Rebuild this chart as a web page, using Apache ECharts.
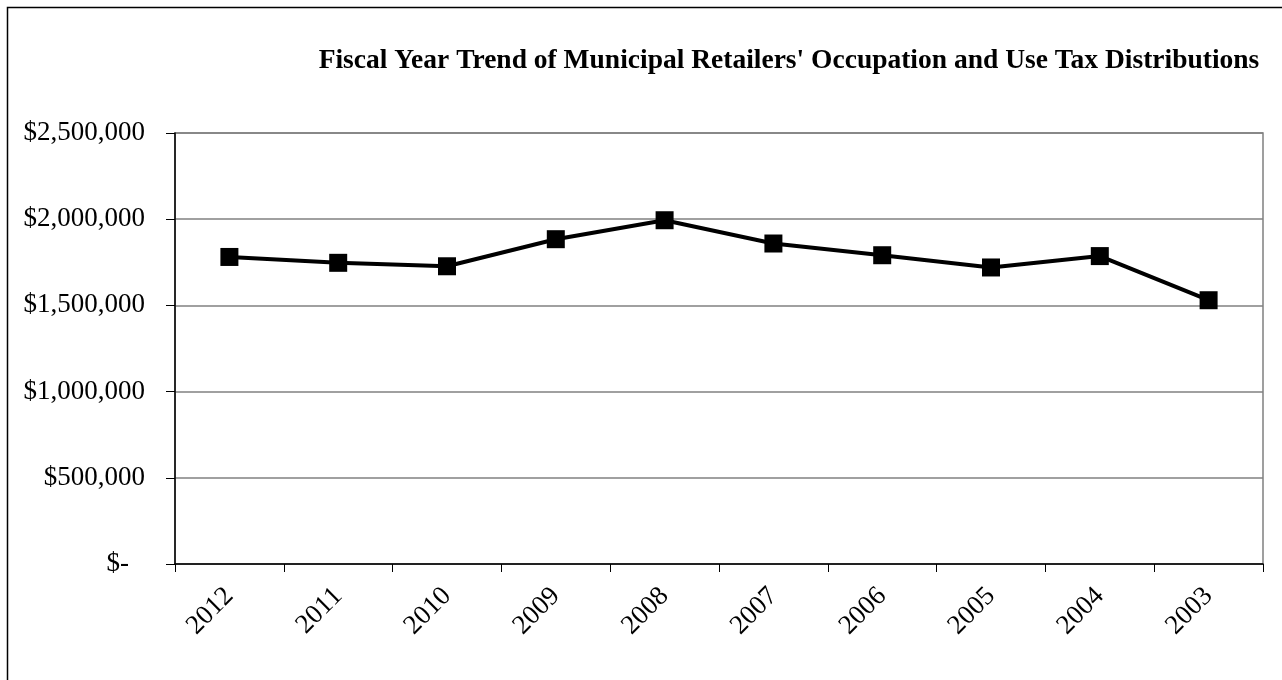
<!DOCTYPE html>
<html>
<head>
<meta charset="utf-8">
<title>Fiscal Year Trend of Municipal Retailers' Occupation and Use Tax Distributions</title>
<script src="https://cdn.jsdelivr.net/npm/echarts@6/dist/echarts.min.js"></script>
<style>
  html, body { margin: 0; padding: 0; background: #ffffff; }
  #chart { width: 1282px; height: 680px; }
</style>
</head>
<body>
<div id="chart"></div>
<script>
// Fiscal years, most recent first
const years = ['2012', '2011', '2010', '2009', '2008', '2007', '2006', '2005', '2004', '2003'];

// Municipal ROT/UT distributions per fiscal year (dollars)
const distributions = [1781000, 1747000, 1727000, 1884000, 1994000, 1859000, 1791000, 1720000, 1786000, 1530000];

// Value axis range
const yMin = 0;
const yMax = 2500000;
const yStep = 500000;

const titleText = "Fiscal Year Trend of Municipal Retailers' Occupation and Use Tax Distributions";
const serif = '"Times New Roman", "Liberation Serif", "DejaVu Serif", serif';

function money(v) {
  if (v === 0) return '{z|$-}';
  return '$' + v.toString().replace(/\B(?=(\d{3})+(?!\d))/g, ',');
}

const chart = echarts.init(document.getElementById('chart'), null, { renderer: 'canvas' });

chart.setOption({
  backgroundColor: '#ffffff',
  animation: false,
  title: {
    text: titleText,
    left: 784,
    top: 42,
    textAlign: 'center',
    textStyle: {
      fontFamily: serif,
      fontWeight: 'bold',
      fontSize: 27.5,
      color: '#000000'
    }
  },
  graphic: [{
    type: 'rect',
    left: 5,
    top: 5,
    shape: { width: 1300, height: 700 },
    style: { fill: 'none', stroke: '#000000', lineWidth: 1.5 },
    silent: true
  }],
  grid: {
    left: 175,
    right: 19,
    top: 133,
    bottom: 116,
    show: true,
    borderColor: '#808080',
    borderWidth: 1.5,
    containLabel: false
  },
  xAxis: {
    type: 'category',
    data: years,
    boundaryGap: true,
    axisLine: { show: true, lineStyle: { color: '#000000', width: 1.5 } },
    axisTick: { show: true, length: 8, inside: false, lineStyle: { color: '#000000', width: 1 } },
    axisLabel: {
      rotate: 45,
      margin: 28,
      fontFamily: serif,
      fontSize: 27,
      color: '#000000',
      interval: 0
    },
    splitLine: { show: false }
  },
  yAxis: {
    type: 'value',
    min: yMin,
    max: yMax,
    interval: yStep,
    axisLine: { show: true, lineStyle: { color: '#000000', width: 1.5 } },
    axisTick: { show: true, length: 9, inside: false, lineStyle: { color: '#000000', width: 1 } },
    axisLabel: {
      margin: 30,
      fontFamily: serif,
      fontSize: 27,
      color: '#000000',
      formatter: money,
      rich: {
        z: { fontFamily: serif, fontSize: 27, color: '#000000', padding: [0, 16, 0, 0] }
      }
    },
    splitLine: { show: true, lineStyle: { color: '#808080', width: 1.5 } }
  },
  series: [{
    type: 'line',
    data: distributions,
    symbol: 'rect',
    symbolSize: 18,
    lineStyle: { color: '#000000', width: 4 },
    itemStyle: { color: '#000000' },
    z: 5
  }]
});
</script>
</body>
</html>
